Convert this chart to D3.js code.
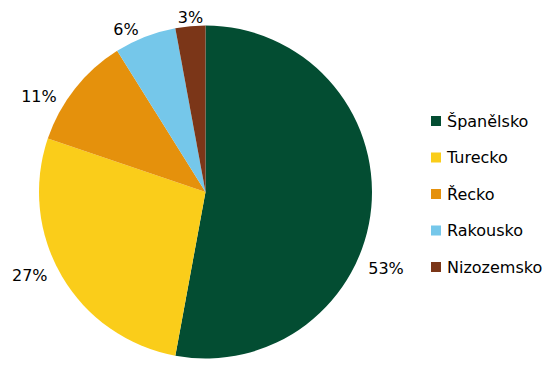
<!DOCTYPE html>
<html><head><meta charset="utf-8">
<script src="https://cdn.jsdelivr.net/npm/d3@7"></script>
<style>body{margin:0;background:#fff}svg{display:block}text{font-family:"DejaVu Sans",Verdana,sans-serif}</style>
</head><body><svg id="c" width="558" height="381"></svg>
<script>
const categories = ["Španělsko","Turecko","Řecko","Rakousko","Nizozemsko"];
const values = [52.9, 27.3, 10.9, 6.0, 2.9];
const labels = ["53%","27%","11%","6%","3%"];
const colors = ["#034d32","#facd1a","#e5910c","#75c7ea","#7b3618"];
// label placement nudges (degrees from slice mid, radius) mimicking best-fit
const labelAngleNudge = [17.7, 5, -8.5, -4.8, 0.3];
const labelRadius = [196, 194.6, 192, 181, 175];

const svg = d3.select("#c");
const cx = 205.5, cy = 192, r = 166.5;
const g = svg.append("g").attr("transform", `translate(${cx},${cy})`);
const pie = d3.pie().sort(null).value(d => d)(values);
const arc = d3.arc().innerRadius(0).outerRadius(r);
g.selectAll("path").data(pie).join("path")
  .attr("d", arc).attr("fill", (d,i) => colors[i]);
g.selectAll("text.lbl").data(pie).join("text")
  .attr("class","lbl")
  .attr("x", (d,i) => { const a = (d.startAngle + d.endAngle)/2 + labelAngleNudge[i]*Math.PI/180; return labelRadius[i]*Math.sin(a); })
  .attr("y", (d,i) => { const a = (d.startAngle + d.endAngle)/2 + labelAngleNudge[i]*Math.PI/180; return -labelRadius[i]*Math.cos(a); })
  .attr("text-anchor","middle").attr("dominant-baseline","central")
  .attr("font-size", 16).attr("fill","#000")
  .text((d,i) => labels[i]);

const leg = svg.append("g").attr("transform","translate(431,121)");
const ly = d3.scalePoint().domain(categories).range([0, 146]);
const items = leg.selectAll("g").data(categories).join("g")
  .attr("transform", d => `translate(0,${ly(d)})`);
items.append("rect").attr("x",0).attr("y",-5).attr("width",10).attr("height",10)
  .attr("fill", (d,i) => colors[i]);
items.append("text").attr("x",16).attr("y",0).attr("dominant-baseline","central")
  .attr("font-size",16).attr("fill","#000").text(d => d);
</script></body></html>
